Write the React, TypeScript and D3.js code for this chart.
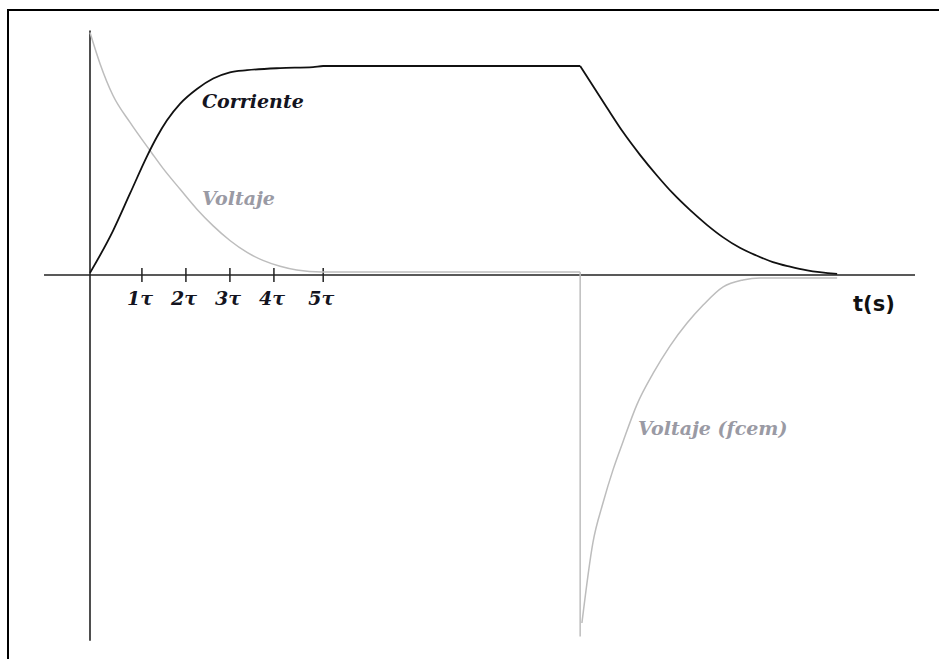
import React from "react";
import * as d3 from "d3";

// Time in units of τ, amplitude normalised to the current plateau
const currentRiseT = [0, 0.52, 0.91, 1.3, 1.52, 1.75, 2.05, 2.43, 2.8, 3.18, 3.57, 4.32, 5.07, 5.3, 11.14];
const currentRiseV = [0.01, 0.21, 0.39, 0.57, 0.66, 0.74, 0.82, 0.89, 0.94, 0.97, 0.98, 0.99, 0.995, 1.0, 1.0];
const currentFallT = [11.14, 11.75, 12.11, 12.5, 12.89, 13.25, 13.64, 14.02, 14.39, 14.77, 15.16, 15.52, 15.91, 16.3, 16.98];
const currentFallV = [1.0, 0.8, 0.685, 0.575, 0.475, 0.39, 0.31, 0.24, 0.18, 0.13, 0.092, 0.062, 0.04, 0.022, 0.005];

const voltT = [0, 0.23, 0.52, 0.91, 1.4, 1.66, 2.05, 2.43, 2.8, 3.18, 3.57, 3.93, 4.32, 4.7, 5.27, 11.14];
const voltV = [1.16, 1.01, 0.86, 0.73, 0.585, 0.51, 0.41, 0.315, 0.235, 0.165, 0.108, 0.07, 0.042, 0.024, 0.014, 0.014];
const voltDropV = [0.014, -1.73];

const fcemT = [11.18, 11.43, 11.66, 11.89, 12.11, 12.43, 12.8, 13.18, 13.57, 13.93, 14.39, 14.84, 15.23, 16.98];
const fcemV = [-1.665, -1.28, -1.09, -0.93, -0.8, -0.62, -0.47, -0.34, -0.23, -0.145, -0.057, -0.024, -0.014, -0.014];

const tickPos = [1.18, 2.18, 3.18, 4.18, 5.3];
const tickLabels = ["1τ", "2τ", "3τ", "4τ", "5τ"];

const labelCurrent = "Corriente";
const labelVolt = "Voltaje";
const labelFcem = "Voltaje (fcem)";
const labelAxis = "t(s)";

export default function App() {
  const W = 939, H = 659;
  const x = d3.scaleLinear().domain([0, 1]).range([90, 134]);
  const y = d3.scaleLinear().domain([0, 1]).range([275, 66]);
  const smooth = d3.line<[number, number]>().x(d => x(d[0])).y(d => y(d[1])).curve(d3.curveMonotoneX);
  const straight = d3.line<[number, number]>().x(d => x(d[0])).y(d => y(d[1]));
  const zip = (a: number[], b: number[]) => a.map((t, i) => [t, b[i]] as [number, number]);
  const rise = zip(currentRiseT, currentRiseV);
  const fall = zip(currentFallT, currentFallV);
  const vol = zip(voltT, voltV);
  const drop: [number, number][] = voltDropV.map(v => [voltT[voltT.length - 1], v]);
  const fc = zip(fcemT, fcemV);
  const serif = "'DejaVu Serif', serif";
  const fs = 19;
  return (
    <svg width={W} height={H} style={{ position: "absolute", left: 0, top: 0, background: "#fff", overflow: "hidden" }}>
      <path d={`M8,${H + 10}V10H${W + 10}`} fill="none" stroke="#000" strokeWidth={2} />
      {/* axes */}
      <line x1={x(-1.045)} x2={x(18.75)} y1={y(0)} y2={y(0)} stroke="#222" strokeWidth={1.6} />
      <line x1={x(0)} x2={x(0)} y1={y(1.17)} y2={y(-1.75)} stroke="#222" strokeWidth={1.6} />
      {tickPos.map((t, i) => (
        <g key={i}>
          <line x1={x(t)} x2={x(t)} y1={y(0) - 7} y2={y(0) + 7} stroke="#222" strokeWidth={1.5} />
          <text x={x(t) - 2} y={y(0) + 30} textAnchor="middle" fontFamily={serif} fontStyle="italic" fontWeight="bold" fontSize={fs} fill="#141420">{tickLabels[i]}</text>
        </g>
      ))}
      <path d={smooth(vol) || ""} fill="none" stroke="#bdbdbd" strokeWidth={1.5} />
      <path d={straight(drop) || ""} fill="none" stroke="#bdbdbd" strokeWidth={1.5} />
      <path d={smooth(fc) || ""} fill="none" stroke="#bdbdbd" strokeWidth={1.5} />
      <path d={smooth(rise) || ""} fill="none" stroke="#111" strokeWidth={1.8} />
      <path d={smooth(fall) || ""} fill="none" stroke="#111" strokeWidth={1.8} />
      <text x={202} y={108} fontFamily={serif} fontStyle="italic" fontWeight="bold" fontSize={fs} fill="#141420">{labelCurrent}</text>
      <text x={202} y={205} fontFamily={serif} fontStyle="italic" fontWeight="bold" fontSize={fs} fill="#9a9aa4">{labelVolt}</text>
      <text x={638} y={435} fontFamily={serif} fontStyle="italic" fontWeight="bold" fontSize={fs} fill="#9a9aa4">{labelFcem}</text>
      <text x={853} y={311} fontFamily="'DejaVu Sans', sans-serif" fontWeight="bold" fontSize={21} fill="#111">{labelAxis}</text>
    </svg>
  );
}
